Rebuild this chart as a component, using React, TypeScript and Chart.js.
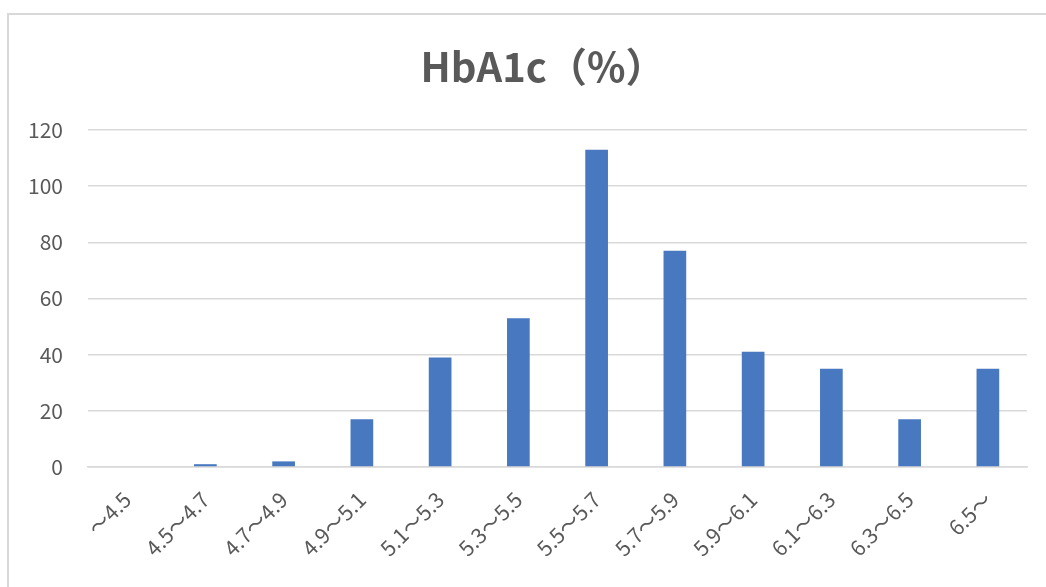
import React, { useEffect, useRef } from "react";
import { Chart, registerables } from "chart.js";

Chart.register(...registerables);

const categories = [
  "～4.5", "4.5～4.7", "4.7～4.9", "4.9～5.1", "5.1～5.3", "5.3～5.5",
  "5.5～5.7", "5.7～5.9", "5.9～6.1", "6.1～6.3", "6.3～6.5", "6.5～",
];
const counts = [0, 1, 2, 17, 39, 53, 113, 77, 41, 35, 17, 35];
const titleText = "HbA1c（%）";
const yMin = 0;
const yMax = 120;
const yStep = 20;

const FONT = "'Noto Sans CJK JP', 'Noto Sans', sans-serif";
const TEXT = "#595959";
const GRID = "#d9d9d9";

const shiftTitle = {
  id: "shiftTitle",
  afterLayout(chart: any) {
    const t = chart.titleBlock;
    if (t) {
      t.left += 50;
    }
  },
};

export default function App() {
  const ref = useRef<HTMLCanvasElement | null>(null);

  useEffect(() => {
    if (!ref.current) return;
    const chart = new Chart(ref.current, {
      type: "bar",
      data: {
        labels: categories,
        datasets: [
          {
            data: counts,
            backgroundColor: "#4878C0",
            borderWidth: 0,
            barPercentage: 0.29,
            categoryPercentage: 1,
          },
        ],
      },
      options: {
        animation: false,
        responsive: false,
        maintainAspectRatio: false,
        layout: { padding: { left: 0, right: 25, top: 0, bottom: 0 } },
        plugins: {
          legend: { display: false },
          tooltip: { enabled: false },
          title: {
            display: true,
            text: titleText,
            color: TEXT,
            font: { family: FONT, size: 40, weight: "bold" },
            padding: { top: 28, bottom: 39 },
          },
        },
        scales: {
          x: {
            grid: { display: false, drawTicks: false },
            border: { display: true, color: GRID, width: 1.5 },
            ticks: {
              color: TEXT,
              font: { family: FONT, size: 21 },
              minRotation: 45,
              maxRotation: 45,
              padding: 20,
              autoSkip: false,
            },
            afterFit: (scale: any) => {
              scale.height = 120;
            },
          },
          y: {
            min: yMin,
            max: yMax,
            grid: { color: GRID, lineWidth: 1.5, drawTicks: false },
            border: { display: false },
            ticks: {
              stepSize: yStep,
              color: TEXT,
              font: { family: FONT, size: 21 },
              padding: 25,
            },
            afterFit: (scale: any) => {
              scale.width = 79;
            },
          },
        },
      },
      plugins: [shiftTitle],
    });
    return () => chart.destroy();
  }, []);

  return (
    <div
      style={{
        position: "fixed",
        left: 0,
        top: 0,
        width: 1046,
        height: 587,
        overflow: "hidden",
        background: "#ffffff",
      }}
    >
      <div
        style={{
          position: "absolute",
          left: 7,
          top: 13,
          width: 1045,
          height: 590,
          borderTop: "2px solid #d9d9d9",
          borderLeft: "2px solid #d9d9d9",
          boxSizing: "border-box",
        }}
      >
        <canvas ref={ref} width={1043} height={572} style={{ display: "block" }} />
      </div>
    </div>
  );
}
